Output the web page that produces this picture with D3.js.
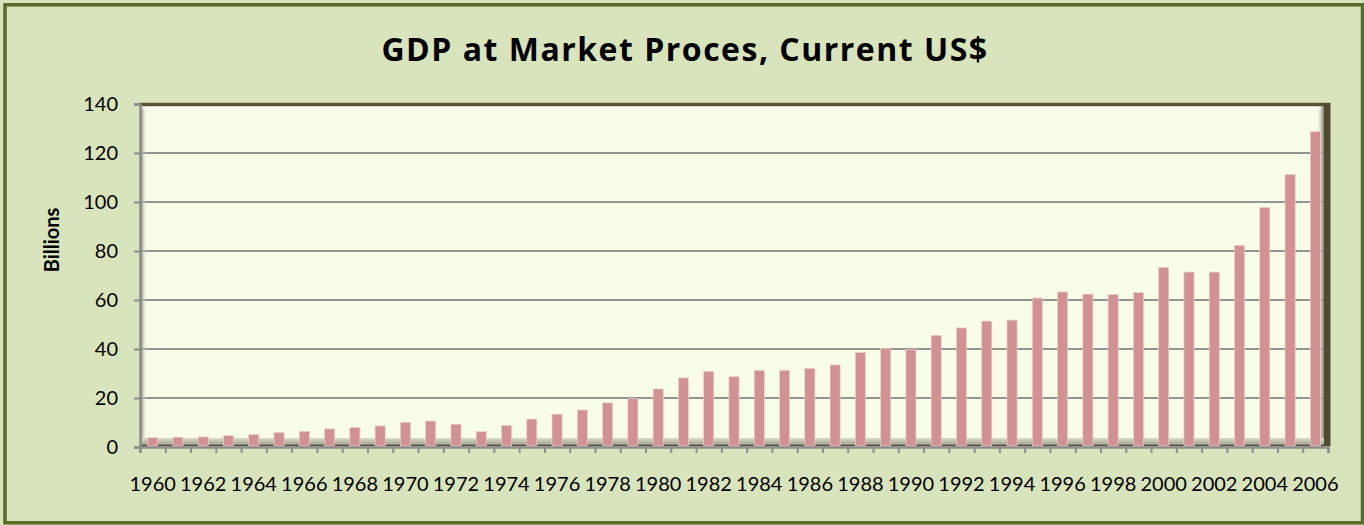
<!DOCTYPE html>
<html>
<head>
<meta charset="utf-8">
<script src="https://cdn.jsdelivr.net/npm/d3@7"></script>
<style>
  body { margin: 0; background: #D8E4BC; }
  svg { display: block; }
</style>
</head>
<body>
<div id="chart"></div>
<script>
// data (billions of current US$)
var years = d3.range(1960, 2007).map(String);
var gdp = [3.8, 4.0, 4.1, 4.6, 5.1, 5.9, 6.4, 7.4, 7.9, 8.6,
           10.1, 10.6, 9.3, 6.3, 8.8, 11.4, 13.4, 15.1, 18.0, 19.7,
           23.7, 28.2, 30.9, 28.7, 31.3, 31.3, 32.1, 33.5, 38.6, 40.3,
           39.9, 45.6, 48.6, 51.4, 51.8, 60.8, 63.3, 62.4, 62.2, 63.0,
           73.3, 71.4, 71.4, 82.3, 97.8, 111.2, 128.7];
var yTicks = [0, 20, 40, 60, 80, 100, 120, 140];
var title = "GDP at Market Proces, Current US$";
var yTitle = "Billions";

var data = years.map(function(d, i) { return {year: d, value: gdp[i]}; });

var W = 1364, H = 525;
var margin = {left: 140, right: 1328, top: 104, bottom: 447};

var svg = d3.select("#chart").append("svg")
    .attr("width", W)
    .attr("height", H);

var defs = svg.append("defs");
function grad(id, x2, y2, stops) {
    var g = defs.append("linearGradient").attr("id", id)
        .attr("x1", 0).attr("y1", 0).attr("x2", x2).attr("y2", y2);
    stops.forEach(function(s) {
        g.append("stop").attr("offset", s[0]).attr("stop-color", s[1]).attr("stop-opacity", s[2]);
    });
}
grad("leftShade", 1, 0, [[0, "#8d8f80", 1], [1, "#f8fde8", 0]]);
grad("rightShade", 1, 0, [[0, "#f8fde8", 0], [1, "#7d7f72", 1]]);
grad("topLight", 0, 1, [[0, "#ffffff", 1], [1, "#ffffff", 0]]);
grad("floor", 0, 1, [[0, "#d9dcc9", 1], [1, "#969a88", 1]]);

// outer chart area
svg.append("rect")
    .attr("x", 5).attr("y", 4.8)
    .attr("width", 1357.5).attr("height", 518)
    .attr("fill", "#D8E4BC")
    .attr("stroke", "#586B2C")
    .attr("stroke-width", 3.5);

// title
svg.append("text")
    .attr("x", 685).attr("y", 61)
    .attr("text-anchor", "middle")
    .style("font-family", "'Open Sans', Lato, sans-serif")
    .style("font-weight", 700)
    .style("font-size", "32px")
    .style("letter-spacing", "1.5px")
    .text(title);

// scales
var x = d3.scaleBand()
    .domain(years)
    .range([margin.left, margin.right])
    .paddingInner(0.6)
    .paddingOuter(0.3);

var xEdge = d3.scaleLinear()
    .domain([0, years.length])
    .range([margin.left, margin.right]);

var y = d3.scaleLinear()
    .domain([0, 140])
    .range([margin.bottom, margin.top]);

var plotW = margin.right - margin.left,
    plotH = margin.bottom - margin.top;

// plot area back wall
svg.append("rect")
    .attr("x", margin.left + 1).attr("y", margin.top)
    .attr("width", plotW - 4).attr("height", plotH)
    .attr("fill", "#F8FDE8");

// gridlines
svg.append("g")
    .selectAll("line")
    .data(yTicks.filter(function(d) { return d > 0 && d < 140; }))
    .enter()
    .append("line")
    .attr("x1", margin.left).attr("x2", margin.right)
    .attr("y1", function(d) { return y(d); })
    .attr("y2", function(d) { return y(d); })
    .attr("stroke", "#949494")
    .attr("stroke-width", 2);

// inner shading of the walls
svg.append("rect")
    .attr("x", margin.left + 1).attr("y", margin.top)
    .attr("width", 6).attr("height", plotH)
    .attr("fill", "url(#leftShade)");
svg.append("rect")
    .attr("x", margin.right - 12).attr("y", margin.top)
    .attr("width", 8).attr("height", plotH)
    .attr("fill", "url(#rightShade)");
svg.append("rect")
    .attr("x", margin.left + 1).attr("y", margin.top + 2)
    .attr("width", plotW - 8).attr("height", 4)
    .attr("fill", "url(#topLight)");

// floor
svg.append("rect")
    .attr("x", margin.left + 1).attr("y", margin.bottom - 9)
    .attr("width", plotW - 4).attr("height", 8)
    .attr("fill", "url(#floor)");
svg.append("line")
    .attr("x1", margin.left + 1).attr("x2", margin.right - 3)
    .attr("y1", margin.bottom - 1.5).attr("y2", margin.bottom - 1.5)
    .attr("stroke", "#4b4a35")
    .attr("stroke-width", 1.5);

// bars
svg.append("g")
    .selectAll("rect")
    .data(data)
    .enter()
    .append("rect")
    .attr("x", function(d) { return x(d.year); })
    .attr("y", function(d) { return y(d.value); })
    .attr("width", x.bandwidth())
    .attr("height", function(d) { return y(0) - y(d.value) - 1; })
    .attr("fill", "#D29293")
    .attr("stroke", "#ead0ca")
    .attr("stroke-width", 0.7);

// dark edges of the plot area (top and right)
svg.append("line")
    .attr("x1", margin.left - 1).attr("x2", margin.right + 2)
    .attr("y1", margin.top + 0.5).attr("y2", margin.top + 0.5)
    .attr("stroke", "#5b5535")
    .attr("stroke-width", 3.5);
svg.append("rect")
    .attr("x", margin.right - 4).attr("y", margin.top - 1)
    .attr("width", 6.5).attr("height", plotH)
    .attr("fill", "#4f4a30");

// y axis
var yAxis = svg.append("g")
    .attr("transform", "translate(" + margin.left + ",0)")
    .call(d3.axisLeft(y).tickValues(yTicks).tickSize(6).tickPadding(16));
yAxis.select(".domain").attr("stroke", "#8c8c8c").attr("stroke-width", 2.5);
yAxis.selectAll(".tick line").attr("stroke", "#8c8c8c").attr("stroke-width", 2);
yAxis.selectAll(".tick text")
    .style("font-family", "Lato, 'Open Sans', sans-serif")
    .style("font-size", "20px")
    .attr("fill", "#000");

// x axis: tick marks at category edges, labels on every other year
var xTicks = svg.append("g")
    .attr("transform", "translate(0," + margin.bottom + ")")
    .call(d3.axisBottom(xEdge).tickValues(d3.range(years.length + 1)).tickSize(6).tickFormat(""));
xTicks.select(".domain").attr("stroke", "#8c8c8c").attr("stroke-width", 2.5);
xTicks.selectAll(".tick line").attr("stroke", "#8c8c8c").attr("stroke-width", 2);

var xLabels = svg.append("g")
    .attr("transform", "translate(0," + margin.bottom + ")")
    .call(d3.axisBottom(x)
        .tickValues(years.filter(function(d, i) { return i % 2 === 0; }))
        .tickSize(0).tickPadding(30));
xLabels.select(".domain").remove();
xLabels.selectAll(".tick text")
    .style("font-family", "Lato, 'Open Sans', sans-serif")
    .style("font-size", "20px")
    .attr("fill", "#000");

// y axis title
svg.append("text")
    .attr("transform", "translate(59,240) rotate(-90)")
    .attr("text-anchor", "middle")
    .style("font-family", "Lato, 'Open Sans', sans-serif")
    .style("font-weight", 700)
    .style("font-size", "20px")
    .text(yTitle);
</script>
</body>
</html>
